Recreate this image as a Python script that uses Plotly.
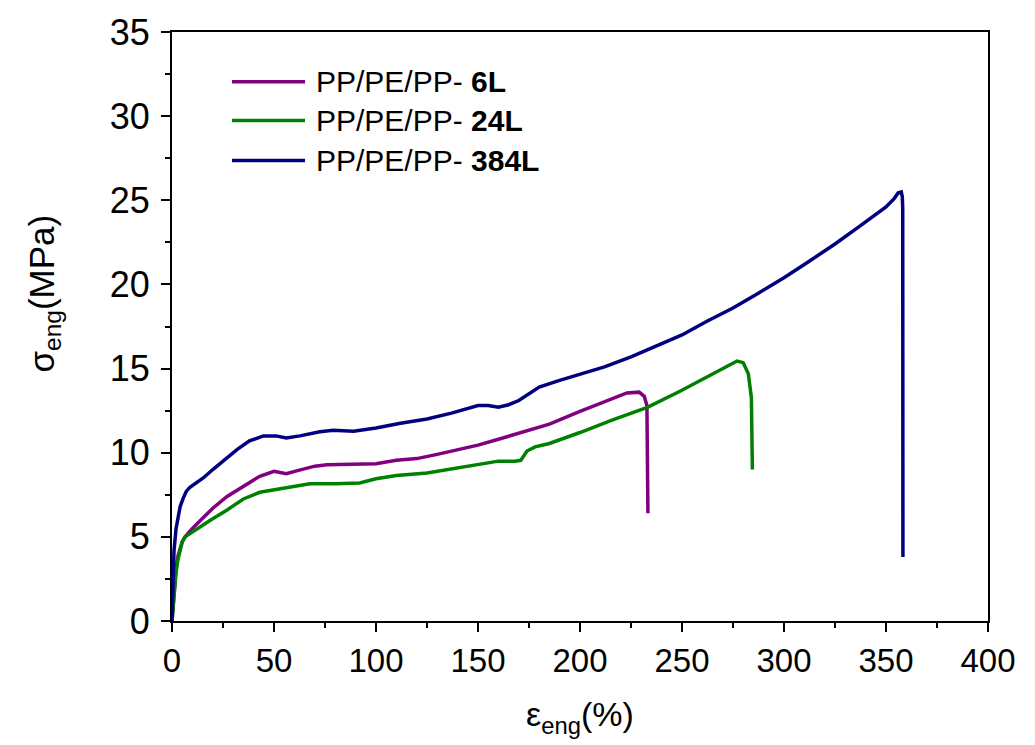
import plotly.graph_objects as go

# ---- data ----
x_6L = [0, 0.5, 1, 2, 3, 4, 5, 6.4, 10, 15, 20, 27, 35, 43, 50, 56, 62, 70, 76, 85, 92, 100,
        110, 120, 130, 140, 150, 160, 170, 175, 185, 200, 210, 218, 223, 229, 231.5, 232.8, 233.2, 233.3]
y_6L = [0, 1.0, 2.0, 3.2, 3.9, 4.4, 4.7, 5.0, 5.5, 6.1, 6.7, 7.4, 8.0, 8.6, 8.9, 8.75, 8.95, 9.2, 9.28, 9.3, 9.3, 9.35,
        9.55, 9.65, 9.9, 10.15, 10.45, 10.8, 11.15, 11.3, 11.7, 12.45, 12.95, 13.35, 13.55, 13.6, 13.35, 12.8, 9.0, 6.4]

x_24L = [0, 0.5, 1, 2, 3, 4, 5, 6.4, 10, 18.6, 27, 35, 43, 51, 59.5, 67.6, 80, 92, 100, 110, 125, 140, 150, 160,
         168, 171, 174, 178, 185, 200, 216, 233, 249, 265, 272, 277, 280, 282.5, 284, 284.3, 284.5]
y_24L = [0, 0.9, 1.8, 2.9, 3.7, 4.3, 4.7, 5.0, 5.3, 5.97, 6.6, 7.25, 7.65, 7.8, 7.95, 8.15, 8.15, 8.2, 8.45, 8.65, 8.8, 9.1, 9.3, 9.5,
         9.5, 9.55, 10.1, 10.35, 10.55, 11.2, 11.95, 12.7, 13.65, 14.7, 15.15, 15.45, 15.35, 14.7, 13.3, 11.0, 9.0]

x_384L = [0, 0.3, 0.6, 1, 2, 3, 4, 5.5, 7, 8.8, 12, 15.3, 20, 26.8, 32, 38, 44.8, 51, 56, 62.7, 72.5, 79, 89, 100,
          112, 125, 137, 150, 155, 160, 165, 170, 175, 180, 190, 200, 212, 225, 237, 250, 262, 275, 287, 300,
          312, 325, 337, 350, 354, 356, 357.5, 358, 358.2, 358.3]
y_384L = [0, 1.5, 3.0, 4.2, 5.5, 6.3, 6.8, 7.3, 7.7, 7.95, 8.2, 8.5, 9.0, 9.7, 10.2, 10.7, 11.0, 11.0, 10.87, 11.0, 11.25, 11.33, 11.27, 11.47,
          11.75, 12.0, 12.35, 12.8, 12.8, 12.7, 12.85, 13.1, 13.5, 13.9, 14.3, 14.65, 15.1, 15.7, 16.3, 17.0, 17.8, 18.6, 19.45, 20.4,
          21.35, 22.4, 23.45, 24.6, 25.1, 25.45, 25.5, 25.2, 24.5, 3.8]

series_names = ["6L", "24L", "384L"]
series_prefix = "PP/PE/PP- "
series_colors = ["#800080", "#008000", "#000080"]

x_ticks = [0, 50, 100, 150, 200, 250, 300, 350, 400]
y_ticks = [0, 5, 10, 15, 20, 25, 30, 35]

FONT = "Liberation Sans, Arial, sans-serif"

fig = go.Figure()
for xs, ys, name, col in zip([x_6L, x_24L, x_384L], [y_6L, y_24L, y_384L], series_names, series_colors):
    fig.add_trace(go.Scatter(x=xs, y=ys, mode="lines", name=series_prefix + name,
                             line=dict(color=col, width=3.5), showlegend=False))

# manual legend (long line samples like the reference)
leg_y = [0.9155, 0.8497, 0.782]
for name, col, ly in zip(series_names, series_colors, leg_y):
    fig.add_shape(type="line", xref="paper", yref="paper", x0=0.0735, x1=0.163, y0=ly, y1=ly,
                  line=dict(color=col, width=3.5))
    fig.add_annotation(xref="paper", yref="paper", x=0.174, y=ly, xanchor="left", yanchor="middle",
                       text=series_prefix + "<b>" + name + "</b>", showarrow=False,
                       font=dict(family=FONT, size=30, color="black"))

# y-axis title as annotation (placed like the reference)
fig.add_annotation(xref="paper", yref="paper", x=-0.158, y=0.556, xanchor="center", yanchor="middle",
                   textangle=-90, text="σ<sub>eng</sub>(MPa)", showarrow=False,
                   font=dict(family=FONT, size=35, color="black"))

fig.update_layout(
    width=1035, height=745,
    margin=dict(l=172, r=47, t=28, b=124),
    paper_bgcolor="white", plot_bgcolor="white",
    font=dict(family=FONT, color="black"),
)
fig.update_xaxes(
    range=[0, 400], tickvals=x_ticks, ticktext=[str(v) for v in x_ticks],
    showgrid=False, zeroline=False, showline=True, linecolor="black", linewidth=2, mirror=True,
    ticks="outside", ticklen=9, tickwidth=2, tickcolor="black",
    minor=dict(dtick=25, ticks="outside", ticklen=5, tickwidth=2, tickcolor="black", showgrid=False),
    tickfont=dict(family=FONT, size=33),
    title=dict(text="ε<sub>eng</sub>(%)", font=dict(family=FONT, size=34), standoff=25),
)
fig.update_yaxes(
    range=[0, 35], tickvals=y_ticks, ticktext=[str(v) for v in y_ticks],
    showgrid=False, zeroline=False, showline=True, linecolor="black", linewidth=2, mirror=True,
    ticks="outside", ticklen=9, tickwidth=2, tickcolor="black",
    minor=dict(dtick=2.5, ticks="outside", ticklen=5, tickwidth=2, tickcolor="black", showgrid=False),
    tickfont=dict(family=FONT, size=36), ticklabelstandoff=4,
)

fig.write_html("out.html")
